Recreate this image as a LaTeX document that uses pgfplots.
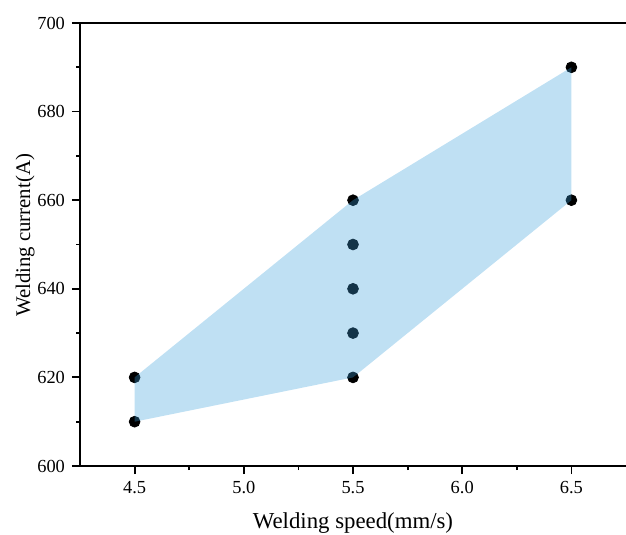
\documentclass[border=0pt]{standalone}
\usepackage{fontspec}
\setmainfont{Liberation Serif}
\usepackage{pgfplots}
\pgfplotsset{compat=1.18}
\usetikzlibrary{calc}
\definecolor{bandblue}{RGB}{60,160,220}
\begin{document}
\begin{tikzpicture}
\begin{axis}[
    set layers,
    scale only axis,
    width=273pt,
    height=221.5pt,
    xmin=4.25, xmax=6.75,
    ymin=600, ymax=700,
    separate axis lines,
    axis x line=box,
    axis y line*=left,
    xtick pos=lower,
    ytick pos=left,
    tick align=outside,
    xtick={4.5,5.0,5.5,6.0,6.5},
    ytick={600,620,640,660,680,700},
    minor x tick num=1,
    minor y tick num=1,
    major tick length=4pt,
    minor tick length=2pt,
    axis line style={line width=0.9pt},
    every tick/.style={line width=0.9pt, black},
    /pgf/number format/assume math mode=true,
    xticklabel style={font=\fontsize{9.2}{11}\selectfont, /pgf/number format/.cd, fixed, fixed zerofill, precision=1},
    yticklabel style={font=\fontsize{9.2}{11}\selectfont},
    xlabel={Welding speed(mm/s)},
    ylabel={Welding current(A)},
    xlabel style={font=\fontsize{11.4}{13}\selectfont, yshift=-2.5pt},
    ylabel style={font=\fontsize{10.4}{12}\selectfont, yshift=-5.5pt, xshift=4.5pt},
    clip=false,
]
% data points
\addplot[only marks, mark=*, mark size=2.7pt, black] coordinates {
    (4.5,620) (4.5,610)
    (5.5,660) (5.5,650) (5.5,640) (5.5,630) (5.5,620)
    (6.5,690) (6.5,660)
};
% process window, laid over the points
\addplot[on layer=axis foreground, draw=none, fill=bandblue, fill opacity=0.33] coordinates {
    (4.5,610) (5.5,620) (6.5,660) (6.5,690) (5.5,660) (4.5,620)
} -- cycle;
\coordinate (ll) at (rel axis cs:0,0);
\coordinate (ur) at (rel axis cs:1,1);
\end{axis}
\pgfresetboundingbox
\path[use as bounding box] ($(ll)+(-40pt,-34.5pt)$) rectangle ($(ur)+(0pt,11.5pt)$);
\end{tikzpicture}
\end{document}
